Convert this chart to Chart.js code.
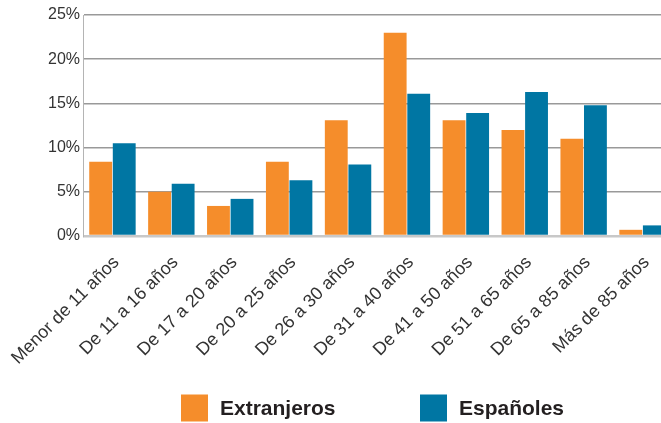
<!DOCTYPE html>
<html lang="es">
<head>
<meta charset="utf-8">
<title>Extranjeros y españoles por edad</title>
<script src="https://cdn.jsdelivr.net/npm/chart.js@4.4.1/dist/chart.umd.min.js"></script>
<style>
    html, body { margin: 0; padding: 0; background: #fff; overflow: hidden; }
    #wrap { position: relative; width: 680px; height: 423px; }
</style>
</head>
<body>
<div id="wrap"><canvas id="edadChart"></canvas></div>
<script>
// Data
const categories = [
    'Menor de 11 años', 'De 11 a 16 años', 'De 17 a 20 años', 'De 20 a 25 años',
    'De 26 a 30 años', 'De 31 a 40 años', 'De 41 a 50 años', 'De 51 a 65 años',
    'De 65 a 85 años', 'Más de 85 años'
];
const extranjeros = [8.4, 5.0, 3.4, 8.4, 13.1, 23.0, 13.1, 12.0, 11.0, 0.7];
const espanoles = [10.5, 5.9, 4.2, 6.3, 8.1, 16.1, 13.9, 16.3, 14.8, 1.2];
const yTicks = [0, 5, 10, 15, 20, 25];
const seriesNames = ['Extranjeros', 'Españoles'];

const FONT = "'Liberation Sans', Arial, Helvetica, sans-serif";

// legend drawn by hand so the two items can sit far apart like the original
const sideLegend = {
    id: 'sideLegend',
    afterDraw(chart, args, opts) {
        const ctx = chart.ctx;
        ctx.save();
        ctx.font = 'bold 21px ' + FONT;
        ctx.textBaseline = 'middle';
        ctx.textAlign = 'left';
        chart.data.datasets.forEach((ds, i) => {
            const x = opts.xs[i];
            ctx.fillStyle = ds.backgroundColor;
            ctx.fillRect(x, opts.y - 13.5, 27, 27);
            ctx.fillStyle = '#231f20';
            ctx.fillText(ds.label, x + 39, opts.y + 1);
        });
        ctx.restore();
    }
};

document.addEventListener('DOMContentLoaded', () => {
    const ctx = document.getElementById('edadChart').getContext('2d');

    new Chart(ctx, {
        type: 'bar',
        data: {
            labels: categories,
            datasets: [{
                label: seriesNames[0],
                data: extranjeros,
                backgroundColor: '#f58d2b',
                categoryPercentage: 0.8,
                barPercentage: 0.97
            }, {
                label: seriesNames[1],
                data: espanoles,
                backgroundColor: '#0076a3',
                categoryPercentage: 0.8,
                barPercentage: 0.97
            }]
        },
        options: {
            responsive: true,
            maintainAspectRatio: false,
            animation: false,
            layout: { padding: { top: 15, right: 8, bottom: 57, left: 0 } },
            plugins: {
                legend: { display: false },
                tooltip: { enabled: false },
                sideLegend: { xs: [181, 420], y: 408 }
            },
            scales: {
                x: {
                    grid: { display: false, drawTicks: false },
                    border: { display: false },
                    ticks: {
                        color: '#333',
                        font: { family: FONT, size: 18 },
                        minRotation: 45,
                        maxRotation: 45,
                        padding: 16,
                        labelOffset: 4,
                        autoSkip: false
                    },
                    afterFit: (scale) => {
                        scale.height = 130;
                        scale.paddingLeft = 0;
                        scale.paddingRight = 0;
                    }
                },
                y: {
                    min: 0,
                    max: 25,
                    afterBuildTicks: (scale) => {
                        scale.ticks = yTicks.map(v => ({ value: v }));
                    },
                    grid: {
                        drawTicks: false,
                        color: (c) => c.tick && c.tick.value === 0 ? '#c8c8c8' : '#999',
                        lineWidth: (c) => c.tick && c.tick.value === 0 ? 2.5 : 1.5
                    },
                    border: { display: true, color: '#b4b4b4', width: 1 },
                    ticks: {
                        color: '#333',
                        font: { family: FONT, size: 16 },
                        padding: 3,
                        callback: (val) => val + '%'
                    },
                    afterFit: (scale) => { scale.width = 83; }
                }
            }
        },
        plugins: [sideLegend]
    });
});
</script>
</body>
</html>
